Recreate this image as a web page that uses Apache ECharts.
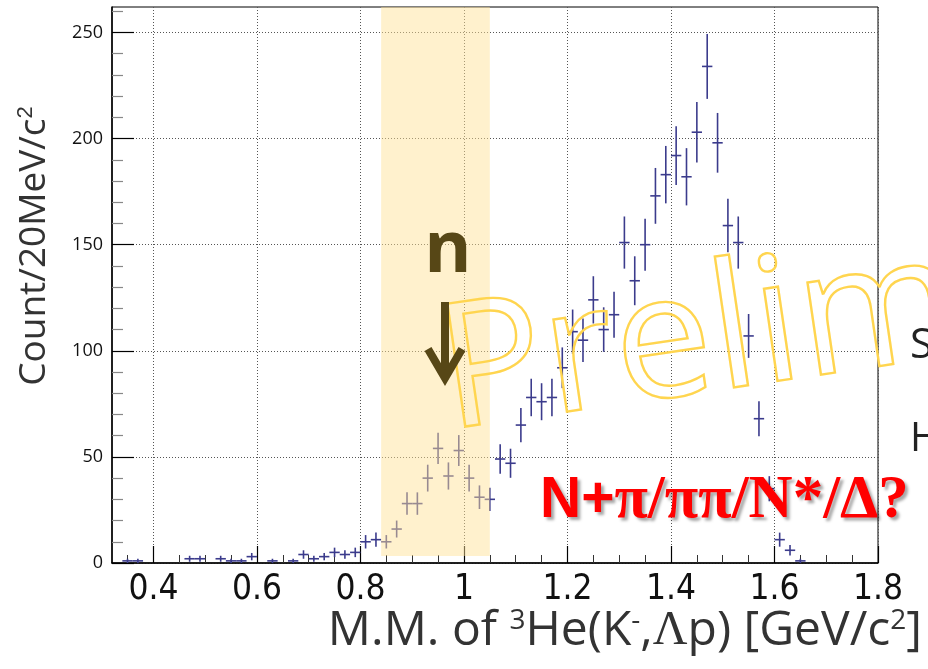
<!DOCTYPE html>
<html><head><meta charset="utf-8">
<script src="https://cdn.jsdelivr.net/npm/echarts@6/dist/echarts.min.js"></script>
<style>html,body{margin:0;padding:0;background:#fff}#c{width:928px;height:669px}</style>
</head><body><div id="c"></div>
<script>
// Bin centres (GeV/c^2) of the non-empty 20 MeV bins and their counts
const binCenters = [0.35,0.37,0.47,0.49,0.53,0.55,0.57,0.59,0.63,0.67,0.69,0.71,0.73,0.75,0.77,0.79,
  0.81,0.83,0.85,0.87,0.89,0.91,0.93,0.95,0.97,0.99,1.01,1.03,1.05,1.07,1.09,1.11,1.13,1.15,1.17,1.19,
  1.21,1.23,1.25,1.27,1.29,1.31,1.33,1.35,1.37,1.39,1.41,1.43,1.45,1.47,1.49,1.51,1.53,1.55,1.57,1.59,
  1.61,1.63,1.65];
const counts = [1,1,2,2,2,1,1,3,1,1,4,2,3,5,4,5,
  10,11,10,16,28,28,40,54,41,53,40,31,30,49,47,65,78,76,78,92,
  109,105,124,110,117,151,133,150,173,183,192,182,203,234,198,159,151,107,68,35,
  11,6,1];
const binHalfWidth = 0.01;
const xMajorTicks = [0.4,0.6,0.8,1.0,1.2,1.4,1.6,1.8];
const xMinorTicks = [0.35,0.45,0.5,0.55,0.65,0.7,0.75,0.85,0.9,0.95,1.05,1.1,1.15,1.25,1.3,1.35,1.45,1.5,1.55,1.65,1.7,1.75];
const yMajorTicks = [0,50,100,150,200,250];
const yMinorTicks = [10,20,30,40,60,70,80,90,110,120,130,140,160,170,180,190,210,220,230,240,260];
const bandX = [0.84, 1.05];
const bandY = [3.3, 262];

const chart = echarts.init(document.getElementById('c'), null, {renderer:'canvas'});
const errData = binCenters.map((c,i)=>[c, counts[i], Math.sqrt(counts[i])]);
const markColor = '#3b3b8c';
const gridLine = {show:true, lineStyle:{color:'#555', width:1, type:[1,2]}};

chart.setOption({
  animation:false,
  backgroundColor:'#fff',
  grid:{left:112, right:50, top:7, bottom:106, show:true, borderColor:'#000', borderWidth:1, backgroundColor:'transparent'},
  xAxis:[
    {type:'value', min:0.32, max:1.8, position:'bottom',
     axisLine:{show:true, lineStyle:{color:'#000', width:1.5}},
     axisTick:{show:true, inside:true, length:17, customValues:xMajorTicks, lineStyle:{color:'#000', width:1.2}},
     axisLabel:{customValues:xMajorTicks, margin:9, color:'#111', fontSize:35, fontFamily:'"Liberation Sans Narrow","DejaVu Sans Condensed","Open Sans",sans-serif',
       formatter:v=>String(Math.round(v*10)/10)},
     splitLine:gridLine},
    {type:'value', min:0.32, max:1.8, position:'bottom',
     axisLine:{show:false},
     axisTick:{show:true, inside:true, length:8, customValues:xMinorTicks, lineStyle:{color:'#333', width:1}},
     axisLabel:{show:false}, splitLine:{show:false}}
  ],
  yAxis:[
    {type:'value', min:0, max:262, interval:50, position:'left',
     axisLine:{show:true, lineStyle:{color:'#000', width:1.5}},
     axisTick:{show:true, inside:true, length:22, customValues:yMajorTicks, lineStyle:{color:'#000', width:1.2}},
     axisLabel:{customValues:yMajorTicks, margin:9, color:'#111', fontSize:18, fontFamily:'"Open Sans",sans-serif'},
     splitLine:gridLine},
    {type:'value', min:0, max:262, position:'left',
     axisLine:{show:false},
     axisTick:{show:true, inside:true, length:11, customValues:yMinorTicks, lineStyle:{color:'#888', width:1.2}},
     axisLabel:{show:false}, splitLine:{show:false}}
  ],
  series:[
    {type:'custom', name:'data', xAxisIndex:0, yAxisIndex:0, z:2, data:errData,
     renderItem:(params, api)=>{
       const x=api.value(0), y=api.value(1), e=api.value(2);
       const t=api.coord([x, y+e]), b=api.coord([x, Math.max(0,y-e)]);
       const l=api.coord([x-binHalfWidth, y]), r=api.coord([x+binHalfWidth, y]);
       const st={stroke:markColor, lineWidth:1.6};
       return {type:'group', children:[
         {type:'line', shape:{x1:t[0],y1:t[1],x2:b[0],y2:b[1]}, style:st},
         {type:'line', shape:{x1:l[0],y1:l[1],x2:r[0],y2:r[1]}, style:st}
       ]};
     }},
    {type:'custom', name:'band', xAxisIndex:0, yAxisIndex:0, z:3, silent:true, data:[[bandX[0], bandX[1], bandY[0], bandY[1]]],
     renderItem:(params, api)=>{
       const p1=api.coord([api.value(0), api.value(3)]), p2=api.coord([api.value(1), api.value(2)]);
       return {type:'rect', shape:{x:p1[0], y:p1[1], width:p2[0]-p1[0], height:p2[1]-p1[1]}, style:{fill:'rgba(255,226,150,0.48)'}};
     }}
  ],
  graphic:[
    {type:'text', z:100, x:922, y:655,
     style:{text:'M.M. of {sup|3}He(K{sup|-},{gr|Λ}p) [GeV/c{sup|2}]', align:'right', verticalAlign:'bottom', fill:'#333',
       font:'48px "Open Sans", sans-serif',
       rich:{sup:{fontSize:28, verticalAlign:'top', padding:[0,0,20,0], fontFamily:'"Open Sans"'}, gr:{fontFamily:'"Liberation Serif"', fontSize:48}}}},
    {type:'text', z:100, x:34, y:246, rotation:Math.PI/2,
     style:{text:'Count/20MeV/c{sup|2}', align:'center', verticalAlign:'middle', fill:'#333', font:'37px "Open Sans", sans-serif',
       rich:{sup:{fontSize:22, padding:[0,0,16,0]}}}},
    {type:'text', z:100, x:448, y:251,
     style:{text:'n', align:'center', verticalAlign:'middle', fill:'#574716', font:'bold 72px "Open Sans", sans-serif',
       shadowColor:'rgba(0,0,0,0.35)', shadowBlur:3, shadowOffsetX:2, shadowOffsetY:2}},
    {type:'line', z:100, shape:{x1:445, y1:302, x2:445, y2:376}, style:{stroke:'#574716', lineWidth:8}},
    {type:'polyline', z:100, shape:{points:[[428,349],[445,378],[462,349]]}, style:{stroke:'#574716', lineWidth:8, fill:null, lineJoin:'miter'}},
    {type:'text', z:90, x:454, y:466, rotation:0.145,
     style:{text:'Preliminary', align:'left', verticalAlign:'bottom', fill:'transparent', stroke:'#ffd54f', lineWidth:2.4,
       font:'174px "Open Sans", sans-serif'}},
    {type:'text', z:100, x:540, y:532,
     style:{text:'{s|N+}{t|π/ππ/N*/Δ?}', align:'left', verticalAlign:'bottom', fill:'#ff0000',
       textShadowColor:'rgba(0,0,0,0.35)', textShadowBlur:3, textShadowOffsetX:3, textShadowOffsetY:3,
       rich:{s:{font:'bold 57px "Liberation Sans", Arial, sans-serif', fill:'#ff0000'}, t:{font:'bold 61px "Liberation Serif", serif', fill:'#ff0000'}}}},
    {type:'text', z:100, x:910, y:346, style:{text:'S', align:'left', verticalAlign:'middle', fill:'#222', font:'42px "Open Sans", sans-serif'}},
    {type:'text', z:100, x:910, y:440, style:{text:'H', align:'left', verticalAlign:'middle', fill:'#222', font:'40px "Open Sans", sans-serif'}}
  ]
});
</script></body></html>
